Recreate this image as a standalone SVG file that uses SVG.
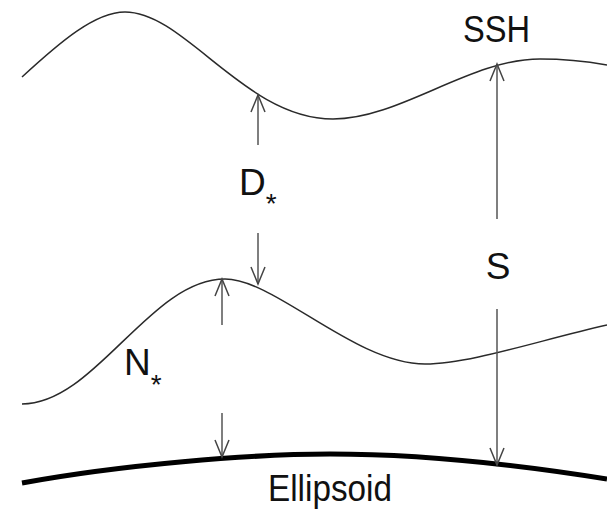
<svg xmlns="http://www.w3.org/2000/svg" width="607" height="511" viewBox="0 0 607 511">
<style>
.curve{fill:none;stroke:#2a2a2a;stroke-width:1.5}
.ell{fill:none;stroke:#000;stroke-width:5}
.arr{fill:none;stroke:#555;stroke-width:1.5;marker-end:url(#ah)}
.lbl{font-family:"Liberation Sans",Arial,sans-serif;font-size:37px;fill:#111}
.sub{font-size:28px}
</style>
<defs>
<marker id="ah" markerUnits="userSpaceOnUse" markerWidth="20" markerHeight="18" refX="0" refY="0" viewBox="-18 -9 20 18" orient="auto">
<path d="M-17,-7 L0,0 L-17,7" fill="none" stroke="#444" stroke-width="1.5"/>
</marker>
</defs>
<rect width="607" height="511" fill="#fff"/>
<g id="ssh">
<path class="curve" d="M22,77 C60,42 95,12 125,12 C185,12 245,119 333,119 C400,119 470,59 540,59 C570,59 590,62 607,65"/>
<text class="lbl" x="463" y="42" textLength="67" lengthAdjust="spacingAndGlyphs">SSH</text>
</g>
<g id="geoid">
<path class="curve" d="M22,404 C95,404 150,279 225,279 C275,279 355,364 425,364 C470,364 540,340 607,325"/>
<text class="lbl" x="124" y="375">N<tspan class="sub" dy="19">*</tspan></text>
</g>
<g id="ellipsoid">
<path class="ell" d="M22,483 C120,465 250,454 330,454 C420,454 520,465 607,479"/>
<text class="lbl" x="268" y="501" textLength="124" lengthAdjust="spacingAndGlyphs">Ellipsoid</text>
</g>
<g id="dlabel">
<text class="lbl" x="239" y="195">D<tspan class="sub" dy="18">*</tspan></text>
</g>
<g id="slabel">
<text class="lbl" x="498" y="279" text-anchor="middle">S</text>
</g>
<g id="connectors">
<line class="arr" x1="258" y1="145" x2="258" y2="95"/>
<line class="arr" x1="258" y1="233" x2="258" y2="284"/>
<line class="arr" x1="222" y1="325" x2="222" y2="279"/>
<line class="arr" x1="222" y1="413" x2="222" y2="457"/>
<line class="arr" x1="497" y1="219" x2="497" y2="64"/>
<line class="arr" x1="497" y1="309" x2="497" y2="465"/>
</g>
</svg>
